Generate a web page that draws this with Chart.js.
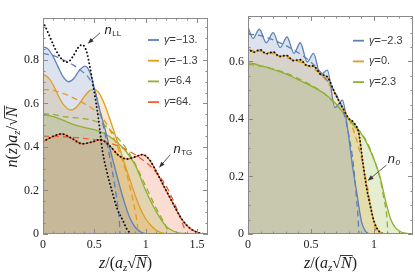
<!DOCTYPE html>
<html>
<head>
<meta charset="utf-8">
<script src="https://cdn.jsdelivr.net/npm/chart.js@4.4.0/dist/chart.umd.min.js"></script>
<style>
  html, body { margin: 0; padding: 0; background: #fff; }
  #wrap { position: relative; width: 415px; height: 276px; overflow: hidden; }
  canvas { position: absolute; top: 0; }
  #chartLeft { left: 0; }
  #chartRight { left: 210px; }
</style>
</head>
<body>
<div id="wrap">
  <canvas id="chartLeft" width="210" height="276"></canvas>
  <canvas id="chartRight" width="205" height="276"></canvas>
</div>
<script>
(function () {
    "use strict";

    var blue = '#5e81b5', orange = '#e19c24', green = '#8fb032', red = '#eb6235';

    // left panel: gamma = -13, -1.3, 6.4, 64 (solid + dashed), n_LL and n_TG dotted
    var leftGammas = ['\u221213.', '\u22121.3', '6.4', '64.'];
    var leftBlue = [[0,0.86],[0.05,0.85],[0.1,0.815],[0.15,0.765],[0.2,0.72],[0.25,0.70],[0.3,0.715],[0.35,0.75],[0.41,0.772],[0.46,0.74],[0.5,0.67],[0.55,0.575],[0.6,0.49],[0.65,0.395],[0.7,0.305],[0.75,0.215],[0.8,0.135],[0.85,0.07],[0.9,0.03],[0.95,0.01],[1.0,0.002],[1.05,0]];
    var leftBlueDash = [[0,0.83],[0.1,0.82],[0.2,0.8],[0.3,0.775],[0.4,0.74],[0.45,0.715],[0.5,0.665],[0.55,0.575],[0.6,0.47],[0.65,0.355],[0.7,0.22],[0.73,0.12],[0.745,0.05],[0.75,0]];
    var leftOrange = [[0,0.735],[0.05,0.72],[0.1,0.685],[0.15,0.635],[0.2,0.595],[0.27,0.57],[0.33,0.585],[0.4,0.63],[0.45,0.658],[0.5,0.665],[0.55,0.645],[0.6,0.595],[0.65,0.53],[0.7,0.46],[0.75,0.39],[0.8,0.315],[0.85,0.245],[0.9,0.175],[0.95,0.115],[1.0,0.07],[1.05,0.04],[1.1,0.018],[1.15,0.006],[1.2,0.001],[1.25,0]];
    var leftOrangeDash = [[0,0.665],[0.1,0.66],[0.2,0.645],[0.3,0.625],[0.4,0.6],[0.5,0.57],[0.6,0.52],[0.7,0.43],[0.8,0.3],[0.85,0.21],[0.9,0.1],[0.92,0.04],[0.93,0]];
    var leftGreen = [[0,0.547],[0.1,0.54],[0.2,0.522],[0.3,0.503],[0.4,0.49],[0.5,0.48],[0.6,0.462],[0.7,0.43],[0.8,0.385],[0.9,0.315],[1.0,0.2],[1.1,0.105],[1.2,0.035],[1.3,0.008],[1.4,0.002],[1.5,0]];
    var leftGreenDash = [[0,0.552],[0.1,0.55],[0.2,0.54],[0.3,0.535],[0.4,0.53],[0.5,0.52],[0.6,0.5],[0.7,0.455],[0.8,0.4],[0.9,0.32],[1.0,0.22],[1.1,0.12],[1.17,0.06],[1.21,0.02],[1.22,0]];
    var leftRed = [[0,0.425],[0.09,0.447],[0.18,0.46],[0.28,0.44],[0.38,0.415],[0.47,0.422],[0.56,0.434],[0.65,0.405],[0.74,0.36],[0.82,0.345],[0.9,0.355],[0.97,0.365],[1.04,0.34],[1.1,0.29],[1.15,0.245],[1.2,0.2],[1.25,0.155],[1.3,0.11],[1.35,0.07],[1.4,0.04],[1.45,0.02],[1.5,0.008],[1.55,0.002],[1.6,0]];
    var leftRedDash = [[0,0.45],[0.2,0.447],[0.4,0.44],[0.6,0.425],[0.8,0.39],[1.0,0.33],[1.1,0.285],[1.2,0.22],[1.3,0.12],[1.35,0.06],[1.38,0.02],[1.39,0]];
    var nLL = [[0,0.975],[0.05,0.925],[0.1,0.87],[0.15,0.825],[0.2,0.795],[0.24,0.79],[0.29,0.815],[0.34,0.855],[0.38,0.87],[0.42,0.845],[0.46,0.76],[0.5,0.65],[0.54,0.53],[0.58,0.38],[0.62,0.29],[0.67,0.2],[0.72,0.12],[0.78,0.06],[0.82,0.02],[0.86,0]];

    // right panel: gamma = -2.3, 0, 2.3 (solid + dashed), n_0 dotted
    var rightGammas = ['\u22122.3', '0.', '2.3'];
    var rightBlue = [[0,0.72],[0.04,0.68],[0.09,0.712],[0.145,0.665],[0.2,0.70],[0.255,0.648],[0.31,0.685],[0.365,0.628],[0.415,0.665],[0.47,0.598],[0.52,0.628],[0.575,0.553],[0.63,0.57],[0.69,0.44],[0.75,0.465],[0.79,0.37],[0.83,0.235],[0.865,0.14],[0.9,0.045],[0.93,0.012],[0.96,0]];
    var rightBlueDash = [[0,0.695],[0.1,0.69],[0.2,0.675],[0.3,0.655],[0.4,0.63],[0.5,0.597],[0.6,0.55],[0.7,0.485],[0.75,0.435],[0.8,0.345],[0.84,0.23],[0.86,0.13],[0.875,0.05],[0.88,0]];
    var rightOrange = [[0,0.645],[0.045,0.632],[0.095,0.641],[0.145,0.627],[0.2,0.633],[0.25,0.617],[0.305,0.621],[0.36,0.603],[0.415,0.606],[0.47,0.585],[0.52,0.584],[0.575,0.556],[0.63,0.546],[0.69,0.49],[0.75,0.44],[0.8,0.402],[0.84,0.387],[0.88,0.35],[0.91,0.255],[0.94,0.165],[0.97,0.1],[1.0,0.045],[1.03,0.015],[1.06,0.003],[1.1,0]];
    var rightOrangeDash = [[0,0.64],[0.1,0.635],[0.2,0.626],[0.3,0.614],[0.4,0.6],[0.5,0.58],[0.6,0.545],[0.7,0.48],[0.75,0.44],[0.8,0.4],[0.85,0.345],[0.9,0.265],[0.95,0.16],[0.99,0.06],[1.01,0.02],[1.02,0]];
    var rightGreen = [[0,0.595],[0.05,0.592],[0.1,0.585],[0.15,0.58],[0.2,0.572],[0.3,0.557],[0.4,0.536],[0.5,0.515],[0.6,0.49],[0.7,0.452],[0.75,0.425],[0.8,0.398],[0.85,0.372],[0.9,0.348],[0.95,0.31],[1.0,0.26],[1.05,0.195],[1.09,0.12],[1.13,0.055],[1.17,0.022],[1.21,0.008],[1.26,0.002],[1.3,0]];
    var rightGreenDash = [[0,0.59],[0.1,0.584],[0.2,0.574],[0.3,0.56],[0.4,0.54],[0.5,0.518],[0.6,0.49],[0.7,0.45],[0.8,0.4],[0.9,0.35],[0.95,0.315],[1.0,0.26],[1.05,0.19],[1.08,0.12],[1.1,0.07],[1.108,0.02],[1.11,0]];

    function pts(a) {
        return a.map(function (p) { return { x: p[0], y: p[1] }; });
    }
    function fade(hex, alpha) {
        var n = parseInt(hex.slice(1), 16);
        return 'rgba(' + (n >> 16) + ',' + ((n >> 8) & 255) + ',' + (n & 255) + ',' + alpha + ')';
    }
    function solid(data, color) {
        return { data: pts(data), borderColor: color, borderWidth: 1.3, backgroundColor: fade(color, 0.22), fill: 'origin', order: 2 };
    }
    function dashed(data, color) {
        return { data: pts(data), borderColor: color, borderWidth: 1.3, borderDash: [6, 4], fill: false, order: 1 };
    }
    function dotted(data) {
        return { data: pts(data), borderColor: '#111', borderWidth: 1.9, borderDash: [0.1, 3.6], borderCapStyle: 'round', fill: false, order: 0 };
    }

    function fmtX(v) { return String(Math.round(v * 10) / 10); }
    function fmtY(v) { return v === 0 ? '0' : v.toFixed(1); }

    // text made of pieces: italic/upright, subscripts, overline for the root
    function drawParts(ctx, parts, x, y) {
        var w = 0;
        parts.forEach(function (p) { ctx.font = p.f; p.w = ctx.measureText(p.t).width; w += p.w; });
        var cx = x - w / 2;
        parts.forEach(function (p, i) {
            ctx.font = p.f;
            ctx.fillText(p.t, cx, y + (p.dy || 0));
            if (p.over) {
                ctx.beginPath();
                ctx.lineWidth = 0.9;
                ctx.moveTo(cx - 1, y - p.over);
                ctx.lineTo(cx + p.w + 1, y - p.over);
                ctx.stroke();
            }
            cx += p.w;
        });
    }
    var IT = 'italic 16px "Liberation Serif"', UP = '16px "Liberation Serif"', SUB = 'italic 11px "Liberation Serif"';

    var decorPlugin = {
        id: 'decor',
        afterDraw: function (chart, args, o) {
            var ctx = chart.ctx, a = chart.chartArea, xs = chart.scales.x, ys = chart.scales.y;
            var i, v, p, len;
            ctx.save();
            ctx.strokeStyle = '#8a8a8a';
            ctx.lineWidth = 1;
            ctx.strokeRect(a.left + 0.5, a.top + 0.5, a.right - a.left - 1, a.bottom - a.top - 1);

            // inward frame ticks
            ctx.beginPath();
            for (i = 0; i * 0.1 <= xs.max + 1e-9; i++) {
                p = Math.round(xs.getPixelForValue(i * 0.1)) + 0.5;
                len = i % 5 === 0 ? 5 : 2.5;
                ctx.moveTo(p, a.bottom); ctx.lineTo(p, a.bottom - len);
                ctx.moveTo(p, a.top); ctx.lineTo(p, a.top + len);
            }
            for (i = 0; i * 0.05 <= ys.max + 1e-9; i++) {
                p = Math.round(ys.getPixelForValue(i * 0.05)) + 0.5;
                len = i % 4 === 0 ? 5 : 2.5;
                ctx.moveTo(a.left, p); ctx.lineTo(a.left + len, p);
                ctx.moveTo(a.right, p); ctx.lineTo(a.right - len, p);
            }
            ctx.stroke();

            // legend
            ctx.textBaseline = 'middle';
            o.legend.forEach(function (item, k) {
                var y = o.legendY + k * 20.7;
                ctx.strokeStyle = item.color;
                ctx.lineWidth = 1.8;
                ctx.beginPath();
                ctx.moveTo(a.right - 60, y); ctx.lineTo(a.right - 49, y);
                ctx.stroke();
                ctx.fillStyle = '#3c3c3c';
                ctx.font = 'italic 11px "Liberation Sans"';
                ctx.fillText('\u03b3', a.right - 44, y);
                var gw = ctx.measureText('\u03b3').width;
                ctx.font = '11px "Liberation Sans"';
                ctx.fillText('=' + item.text, a.right - 44 + gw, y);
            });

            // labelled arrows
            o.notes.forEach(function (n) {
                var fx = xs.getPixelForValue(n.from[0]), fy = ys.getPixelForValue(n.from[1]);
                var tx = xs.getPixelForValue(n.to[0]), ty = ys.getPixelForValue(n.to[1]);
                var ang = Math.atan2(ty - fy, tx - fx);
                ctx.strokeStyle = '#333'; ctx.fillStyle = '#333'; ctx.lineWidth = 0.8;
                ctx.beginPath(); ctx.moveTo(fx, fy); ctx.lineTo(tx - 4 * Math.cos(ang), ty - 4 * Math.sin(ang)); ctx.stroke();
                ctx.beginPath();
                ctx.moveTo(tx, ty);
                ctx.lineTo(tx - 6 * Math.cos(ang) + 2.2 * Math.sin(ang), ty - 6 * Math.sin(ang) - 2.2 * Math.cos(ang));
                ctx.lineTo(tx - 6 * Math.cos(ang) - 2.2 * Math.sin(ang), ty - 6 * Math.sin(ang) + 2.2 * Math.cos(ang));
                ctx.closePath(); ctx.fill();
                var lx = xs.getPixelForValue(n.at[0]), ly = ys.getPixelForValue(n.at[1]);
                ctx.fillStyle = '#222';
                ctx.textBaseline = 'alphabetic';
                ctx.font = 'italic 13px "Liberation Sans"';
                ctx.fillText('n', lx, ly + 4);
                var nw = ctx.measureText('n').width;
                ctx.font = n.subFont || '8px "Liberation Sans"';
                ctx.fillText(n.sub, lx + nw + 0.5, ly + 6);
            });

            // axis titles
            ctx.fillStyle = '#222';
            ctx.strokeStyle = '#222';
            ctx.textBaseline = 'alphabetic';
            drawParts(ctx, [
                { t: 'z', f: IT }, { t: '/(', f: UP }, { t: 'a', f: IT }, { t: 'z', f: SUB, dy: 3 },
                { t: '\u221a', f: UP }, { t: 'N', f: IT, over: 12.5 }, { t: ')', f: UP }
            ], (a.left + a.right) / 2, 268);
            if (o.yTitle) {
                ctx.translate(17, 137);
                ctx.rotate(-Math.PI / 2);
                drawParts(ctx, [
                    { t: 'n', f: IT }, { t: '(', f: UP }, { t: 'z', f: IT }, { t: ')', f: UP }, { t: 'a', f: IT },
                    { t: 'z', f: SUB, dy: 3 }, { t: '/', f: UP }, { t: '\u221a', f: UP }, { t: 'N', f: IT, over: 12.5 }
                ], 0, 0);
            }
            ctx.restore();
        }
    };

    function makeOptions(xMax, yMax, decor) {
        var tickFont = { family: 'Liberation Serif', size: 12 };
        return {
            responsive: false,
            animation: false,
            layout: { padding: { top: decor.top, right: 2, left: 0, bottom: 0 } },
            elements: { point: { radius: 0 }, line: { cubicInterpolationMode: 'monotone' } },
            plugins: {
                legend: { display: false },
                tooltip: { enabled: false },
                filler: { drawTime: 'beforeDatasetsDraw' },
                decor: decor
            },
            scales: {
                x: {
                    type: 'linear', min: 0, max: xMax,
                    grid: { display: false, drawTicks: false }, border: { display: false },
                    ticks: { stepSize: 0.5, includeBounds: false, maxRotation: 0, autoSkip: false, padding: 4, color: '#222', font: tickFont, callback: fmtX },
                    afterFit: function (s) { s.height = 42; }
                },
                y: {
                    min: 0, max: yMax,
                    grid: { display: false, drawTicks: false }, border: { display: false },
                    ticks: { stepSize: 0.2, includeBounds: false, padding: 4, color: '#222', font: tickFont, callback: fmtY },
                    afterFit: function (s) { s.width = decor.yWidth; }
                }
            }
        };
    }

    new Chart(document.getElementById('chartLeft'), {
        type: 'line',
        data: {
            datasets: [
                dotted(nLL), dotted(leftRed),
                dashed(leftBlueDash, blue), dashed(leftOrangeDash, orange), dashed(leftGreenDash, green), dashed(leftRedDash, red),
                solid(leftBlue, blue), solid(leftOrange, orange), solid(leftGreen, green), solid(leftRed, red)
            ]
        },
        options: makeOptions(1.607, 0.993, {
            top: 18, yWidth: 43, yTitle: true, legendY: 40,
            legend: [
                { color: blue, text: leftGammas[0] }, { color: orange, text: leftGammas[1] },
                { color: green, text: leftGammas[2] }, { color: red, text: leftGammas[3] }
            ],
            notes: [
                { sub: 'LL', at: [0.6, 0.94], from: [0.556, 0.925], to: [0.435, 0.875] },
                { sub: 'TG', at: [1.27, 0.39], from: [1.24, 0.365], to: [1.13, 0.305] }
            ]
        }),
        plugins: [decorPlugin]
    });

    new Chart(document.getElementById('chartRight'), {
        type: 'line',
        data: {
            datasets: [
                dotted(rightOrange),
                dashed(rightBlueDash, blue), dashed(rightOrangeDash, orange), dashed(rightGreenDash, green),
                solid(rightBlue, blue), solid(rightOrange, orange), solid(rightGreen, green)
            ]
        },
        options: makeOptions(1.31, 0.758, {
            top: 16, yWidth: 38, yTitle: false, legendY: 40.7,
            legend: [
                { color: blue, text: rightGammas[0] }, { color: orange, text: rightGammas[1] },
                { color: green, text: rightGammas[2] }
            ],
            notes: [
                { sub: '0', subFont: 'italic 8px "Liberation Sans"', at: [1.11, 0.26], from: [1.1, 0.24], to: [0.95, 0.185] }
            ]
        }),
        plugins: [decorPlugin]
    });
})();
</script>
</body>
</html>
